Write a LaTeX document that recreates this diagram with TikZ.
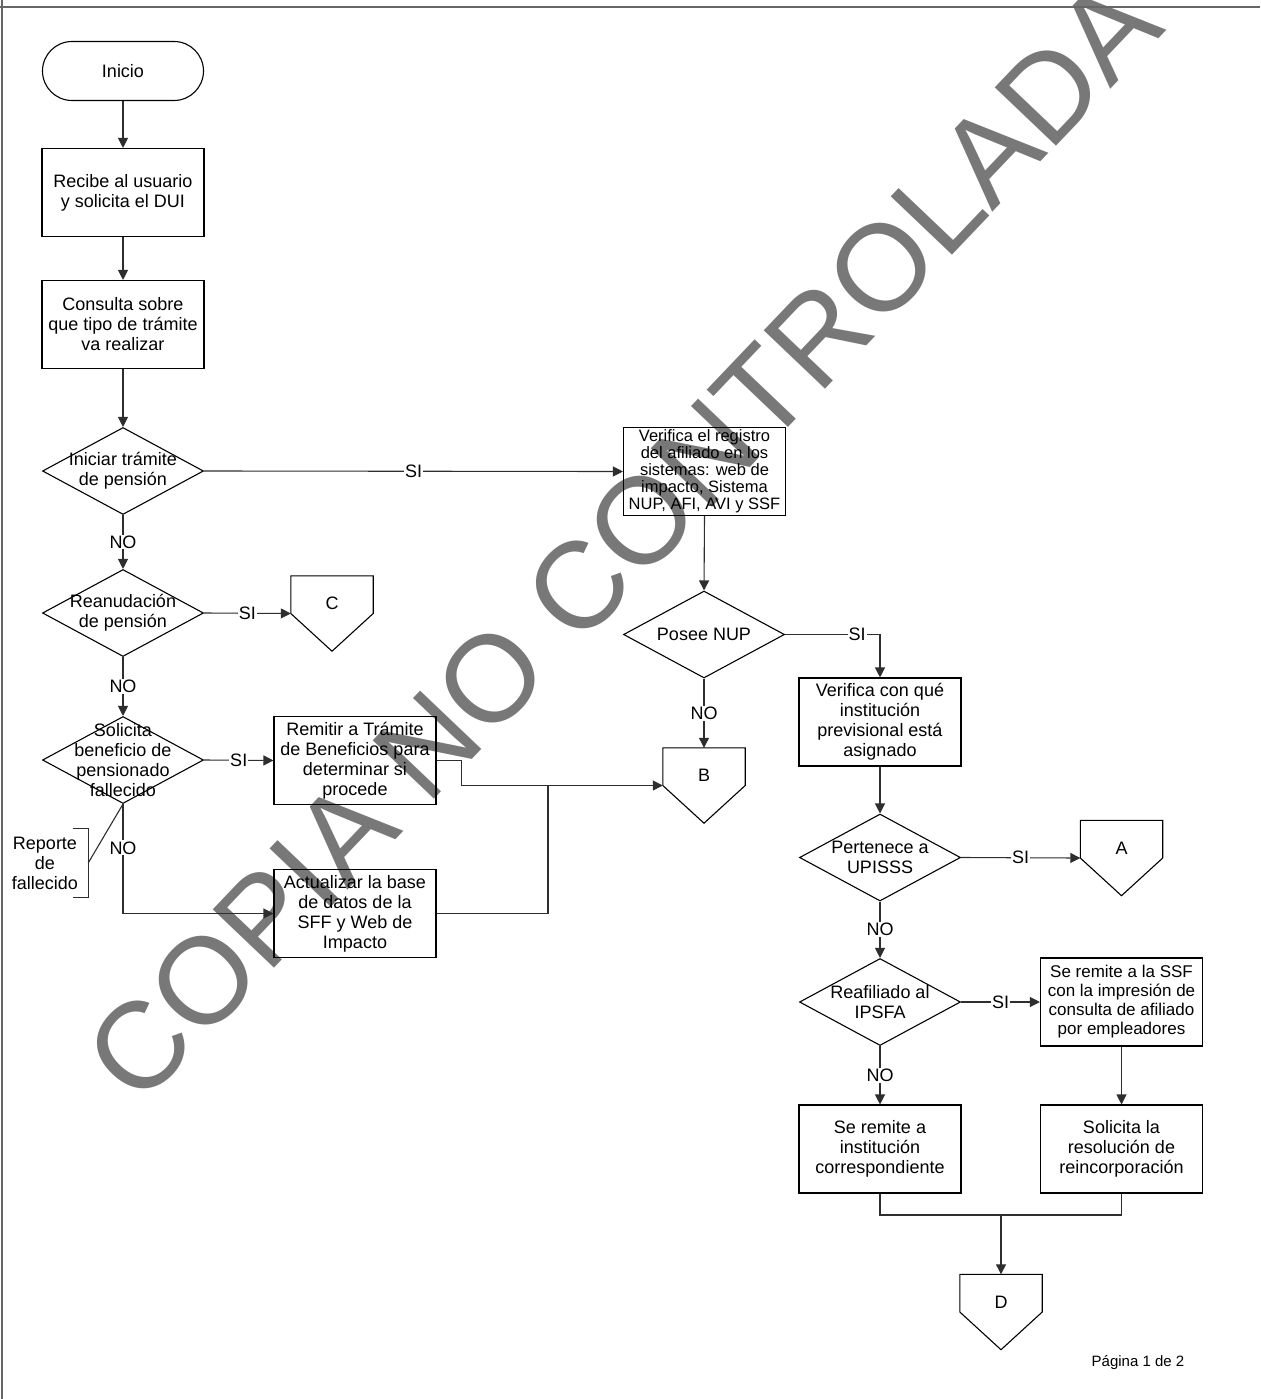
\documentclass[tikz,border=0pt]{standalone}
\usepackage{fontspec}
\setmainfont{Liberation Sans}
\usetikzlibrary{arrows.meta,shapes.geometric,calc}

% outline of an off-page connector drawn on a named node
\newcommand\pentagonof[1]{%
  \draw[shapeline] (#1.north west) -- (#1.north east) -- (#1.east)
    -- (#1.south) -- (#1.west) -- cycle;}

\begin{document}
\begin{tikzpicture}[x=1pt,y=-1pt,
  font=\fontsize{18}{20}\selectfont,
  shapeline/.style={draw=black, line width=1.1pt},
  box/.style={shapeline, minimum width=162pt, minimum height=88pt,
    align=center, inner sep=1pt},
  term/.style={shapeline, rounded corners=29.5pt, minimum width=161pt,
    minimum height=59pt},
  dec/.style={shapeline, diamond, minimum width=161pt, minimum height=87pt,
    inner sep=0pt, label={[align=center]center:#1}},
  offp/.style={minimum width=82pt, minimum height=75pt, inner sep=0pt,
    label={[yshift=10pt]center:#1}},
  edge/.style={draw=black!82, line width=1.1pt},
  arr/.style={edge, -{Triangle[length=10pt,width=10pt]}},
  lab/.style={fill=white, inner sep=1pt},
  border/.style={draw=black!60, line width=1.6pt}
]
\useasboundingbox (0,0) rectangle (1260,1399);

% watermark
\node[rotate=46.4, inner sep=0pt, text=black!53,
  font=\fontsize{123}{123}\selectfont] (wm) at (623,540) {COPIA NO CONTROLADA};

% page frame
\draw[border] (2,0) -- (2,1399);
\draw[border] (0,7) -- (1260,7);

% left column
\node[term] (ini) at (123,71) {Inicio};
\node[box] (b1) at (123,192.5) {Recibe al usuario\\y solicita el DUI};
\node[box] (b2) at (123,324.5) {Consulta sobre\\que tipo de trámite\\va realizar};
\node[dec={Iniciar trámite\\de pensión}] (d1) at (123,471) {};
\node[dec={Reanudación\\de pensión}] (d2) at (123,613) {};
\node[dec={Solicita\\beneficio de\\pensionado\\fallecido}] (d3) at (123,760) {};
\node[offp=C] (C) at (332,613.5) {};
\pentagonof{C}

% document annotation
\node[minimum width=86pt, minimum height=68pt, inner sep=0pt, align=center]
  (rep) at (45,863) {Reporte\\de\\fallecido};
\draw[edge] ($(rep.north east)+(-15,0)$) -- (rep.north east)
  -- (rep.south east) -- ($(rep.south east)+(-15,0)$);
\draw[edge] (rep.east) -- (d3.south);

% middle column
\node[box] (rb) at (355,760.5) {Remitir a Trámite\\de Beneficios para\\determinar si\\procede};
\node[box] (ab) at (355,913.5) {Actualizar la base\\de datos de la\\SFF y Web de\\Impacto};
\node[box, font=\fontsize{16.5}{17}\selectfont] (v1) at (704.5,471.5)
  {Verifica el registro\\del afiliado en los\\sistemas: web de\\impacto, Sistema\\NUP, AFI, AVI y SSF};
\node[dec={Posee NUP}] (pn) at (704,634.5) {};
\node[offp=B] (B) at (704,785.5) {};
\pentagonof{B}
\coordinate (j1) at (548,786);

% right column
\node[box] (vq) at (880,722) {Verifica con qué\\institución\\previsional está\\asignado};
\node[dec={Pertenece a\\UPISSS}] (pu) at (880,857.5) {};
\node[offp=A] (A) at (1121.5,858) {};
\pentagonof{A}
\node[dec={Reafiliado al\\IPSFA}] (ra) at (880,1002) {};
\node[box, font=\fontsize{17}{19}\selectfont] (ssf) at (1121.5,1002)
  {Se remite a la SSF\\con la impresión de\\consulta de afiliado\\por empleadores};
\node[box] (ic) at (880,1149) {Se remite a\\institución\\correspondiente};
\node[box] (sr) at (1121.5,1149) {Solicita la\\resolución de\\reincorporación};
\node[offp=D] (D) at (1001,1312) {};
\pentagonof{D}
\coordinate (j2) at (1001,1215);

\node[font=\fontsize{15}{17}\selectfont] (pg) at (1138,1363) {Página 1 de 2};

% connectors
\draw[arr] (ini.south) -- (b1.north);
\draw[arr] (b1.south) -- (b2.north);
\draw[arr] (b2.south) -- (d1.north);
\draw[arr] (d1.east) -- node[lab]{SI} (v1.west);
\draw[arr] (d1.south) -- node[lab]{NO} (d2.north);
\draw[arr] (d2.east) -- node[lab]{SI} (C.west);
\draw[arr] (d2.south) -- node[lab]{NO} (d3.north);
\draw[arr] (d3.east) -- node[lab]{SI} (rb.west);
\draw[arr] (d3.south) |- node[lab,pos=0.2]{NO} (ab.west);
\draw[arr] (rb.east) -- ++(25,0) |- (B.west);
\draw[edge] (ab.east) -| (j1);
\draw[arr] (v1.south) -- (pn.north);
\draw[arr] (pn.south) -- node[lab]{NO} (B.north);
\draw[arr] (pn.east) -| node[lab,pos=0.38]{SI} (vq.north);
\draw[arr] (vq.south) -- (pu.north);
\draw[arr] (pu.east) -- node[lab]{SI} (A.west);
\draw[arr] (pu.south) -- node[lab]{NO} (ra.north);
\draw[arr] (ra.east) -- node[lab]{SI} (ssf.west);
\draw[arr] (ra.south) -- node[lab]{NO} (ic.north);
\draw[arr] (ssf.south) -- (sr.north);
\draw[edge] (ic.south) |- (j2) -| (sr.south);
\draw[arr] (j2) -- (D.north);
\end{tikzpicture}
\end{document}
